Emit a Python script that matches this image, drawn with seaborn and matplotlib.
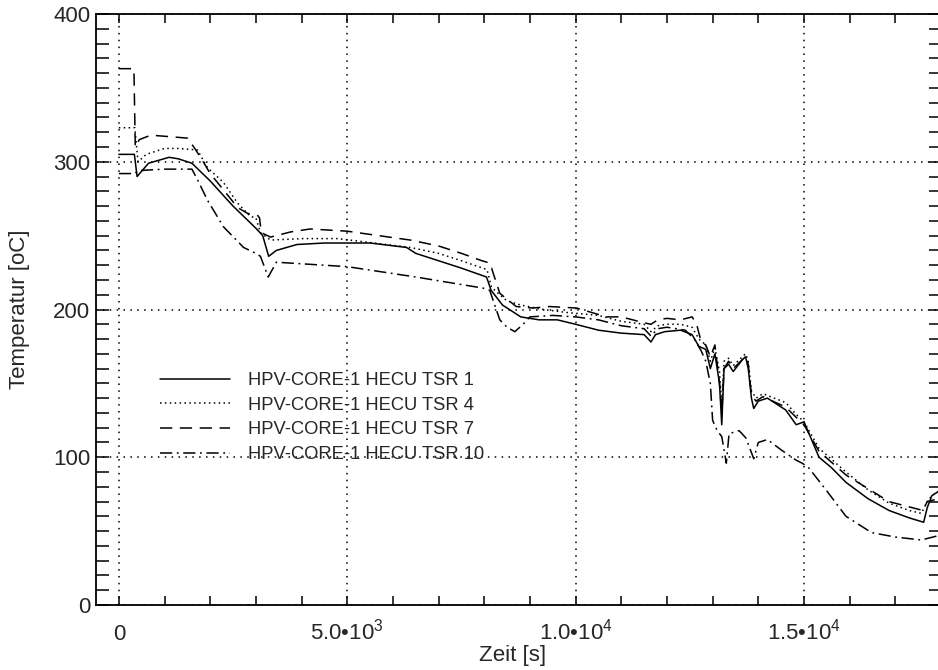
import numpy as np
import pandas as pd
import seaborn as sns
import matplotlib.pyplot as plt
from matplotlib.ticker import MultipleLocator

# TSR 1 (solid)
t_tsr1 = [0, 340, 400, 650, 1100, 1300, 1600, 2000, 2500, 3000,
          3150, 3280, 3450, 3900, 4500, 5500, 6300, 6500, 7000, 7500,
          8050, 8150, 8400, 8800, 9200, 9600, 10000, 10500, 11000, 11500,
          11650, 11750, 11950, 12300, 12550, 12700, 12850, 12950, 13050, 13150,
          13200, 13250, 13350, 13450, 13550, 13650, 13720, 13780, 13850, 13900,
          14000, 14200, 14600, 14830, 15000, 15330, 15600, 15920, 16400, 16860,
          17300, 17620, 17700, 17800, 17950]
T_tsr1 = [305, 305, 290, 299, 303, 302, 299, 287, 270, 255,
          250, 236, 240, 244, 245, 245, 242, 238, 233, 228,
          222, 213, 203, 195, 193, 193, 190, 186, 184, 183,
          178, 183, 185, 186, 183, 175, 173, 160, 170, 150,
          122, 160, 163, 158, 162, 166, 168, 160, 140, 133,
          138, 140, 132, 122, 124, 100, 93, 83, 72, 64,
          59, 56, 66, 74, 77]

# TSR 4 (dotted)
t_tsr4 = [0, 350, 420, 600, 1000, 1300, 1720, 1940, 2290, 2600,
          2880, 3000, 3100, 3320, 4040, 4780, 6380, 7000, 7500, 8060,
          8160, 8340, 8490, 8800, 9300, 9800, 10500, 11000, 11500, 11650,
          11800, 12000, 12300, 12550, 12700, 12850, 12950, 13050, 13150, 13200,
          13250, 13350, 13450, 13550, 13650, 13720, 13780, 13850, 13950, 14100,
          14600, 14830, 15000, 15330, 15920, 16400, 16860, 17300, 17570, 17700,
          17800, 17950]
T_tsr4 = [323, 323, 300, 305, 309, 309, 308, 296, 286, 272,
          263, 262, 252, 247, 248, 248, 242, 238, 233, 227,
          215, 210, 206, 203, 200, 198, 196, 192, 190, 185,
          189, 190, 190, 188, 180, 176, 165, 174, 158, 135,
          165, 167, 162, 165, 168, 170, 165, 145, 140, 143,
          137, 129, 124, 106, 90, 78, 69, 64, 62, 70,
          74, 77]

# TSR 7 (dashed)
t_tsr7 = [0, 330, 360, 450, 700, 1500, 1640, 1790, 2000, 2290,
          2600, 2820, 3030, 3080, 3120, 3320, 3760, 4190, 5000, 6380,
          7000, 7500, 7950, 8060, 8120, 8160, 8340, 8700, 9060, 9430,
          10020, 10680, 11000, 11500, 11650, 11800, 12000, 12300, 12550, 12650,
          12750, 12850, 12950, 13050, 13150, 13200, 13250, 13350, 13450, 13550,
          13650, 13720, 13780, 13850, 13950, 14100, 14600, 14830, 15000, 15330,
          15920, 16860, 17600, 17700, 17950]
T_tsr7 = [363, 363, 310, 315, 318, 316, 310, 303, 292, 281,
          269, 265, 264, 262, 252, 249, 252.5, 254.5, 253, 247,
          243, 238, 233, 232, 228, 228, 211, 202, 201, 202,
          201, 195, 195, 191, 190, 193, 194, 193, 195, 190,
          178, 176, 168, 176, 150, 130, 160, 165, 160, 163,
          166, 168, 163, 142, 138, 141, 134, 127, 122, 104,
          88, 70, 64, 70, 72]

# TSR 10 (dash-dot)
t_tsr10 = [0, 350, 420, 1000, 1600, 1720, 1940, 2290, 2730, 3000,
           3100, 3270, 3450, 3970, 5000, 6500, 7970, 8120, 8340, 8500,
           8670, 8850, 9000, 9500, 10000, 10500, 11000, 11500, 11650, 11800,
           12000, 12400, 12600, 12750, 12850, 12950, 13000, 13100, 13200, 13250,
           13300, 13360, 13580, 13730, 13900, 14000, 14200, 14500, 14830, 14960,
           15100, 15480, 15920, 16480, 17000, 17570, 17950]
T_tsr10 = [292, 292, 294, 295, 295, 288, 274, 256, 242, 238,
           236, 222, 232, 231, 229, 222, 214.5, 213, 193, 188,
           185, 190, 195, 196, 195, 193, 189, 187, 182, 187,
           188, 186, 180, 172, 165, 150, 125, 118, 114, 105,
           96, 116, 118, 113, 99, 110, 112, 105, 98, 96,
           93, 78, 60, 49, 46, 44, 47]

labels = ['HPV-CORE-1 HECU TSR 1', 'HPV-CORE-1 HECU TSR 4',
          'HPV-CORE-1 HECU TSR 7', 'HPV-CORE-1 HECU TSR 10']
xtick_vals = [0, 5000, 10000, 15000]
xtick_labels = ['0', '5.0•10$^{3}$', '1.0•10$^{4}$', '1.5•10$^{4}$']
ytick_vals = [0, 100, 200, 300, 400]

sns.set_style('ticks')
plt.rcParams['font.family'] = ['Liberation Sans', 'DejaVu Sans']
plt.rcParams['mathtext.fontset'] = 'custom'
plt.rcParams['mathtext.rm'] = 'Liberation Sans'
plt.rcParams['mathtext.default'] = 'regular'

fig = plt.figure(figsize=(9.38, 6.70), dpi=100)
ax = fig.add_axes([96 / 938, 65 / 670, 845 / 938, 591 / 670])

series = [(t_tsr1, T_tsr1, '-'),
          (t_tsr4, T_tsr4, (0, (1, 2.2))),
          (t_tsr7, T_tsr7, (0, (8, 5))),
          (t_tsr10, T_tsr10, (0, (8, 3, 1.2, 3)))]
for (t, T, ls), name in zip(series, labels):
    sns.lineplot(x=t, y=T, ax=ax, color='black', lw=1.1, linestyle=ls,
                 label=name, sort=False, estimator=None)

ax.set_xlim(-500, 18000)
ax.set_ylim(0, 400)
ax.xaxis.set_minor_locator(MultipleLocator(1000))
ax.yaxis.set_minor_locator(MultipleLocator(10))
ax.set_xticks(xtick_vals)
ax.set_xticklabels(xtick_labels)
ax.set_yticks(ytick_vals)
ax.tick_params(axis='both', which='both', direction='in', top=True, right=True,
               color='black', width=1.1, labelsize=16)
ax.tick_params(axis='x', which='both', length=6.5, pad=25)
ax.tick_params(axis='y', which='both', length=9, pad=4)
for lab in ax.get_xticklabels():
    lab.set_verticalalignment('baseline')

ax.grid(True, which='major', color='black', linestyle=(0, (1, 3.5)), linewidth=1.1)
for sp in ax.spines.values():
    sp.set_color('black')
    sp.set_linewidth(1.3)

ax.set_xlabel('Zeit [s]', fontsize=16, va='center')
ax.set_ylabel('Temperatur [oC]', fontsize=16, va='center')
ax.xaxis.set_label_coords((513 - 96) / 845, (605 - 655) / 591)
ax.yaxis.set_label_coords((20 - 96) / 845, 0.5)

ax.legend(loc='upper left', bbox_to_anchor=(160 / 938, 1 - 372 / 670),
          bbox_transform=fig.transFigure, frameon=False, fontsize=13.2,
          handlelength=3.8, handletextpad=1.0, labelspacing=0.42,
          borderaxespad=0, borderpad=0)

fig.savefig('out.png', dpi=100)
